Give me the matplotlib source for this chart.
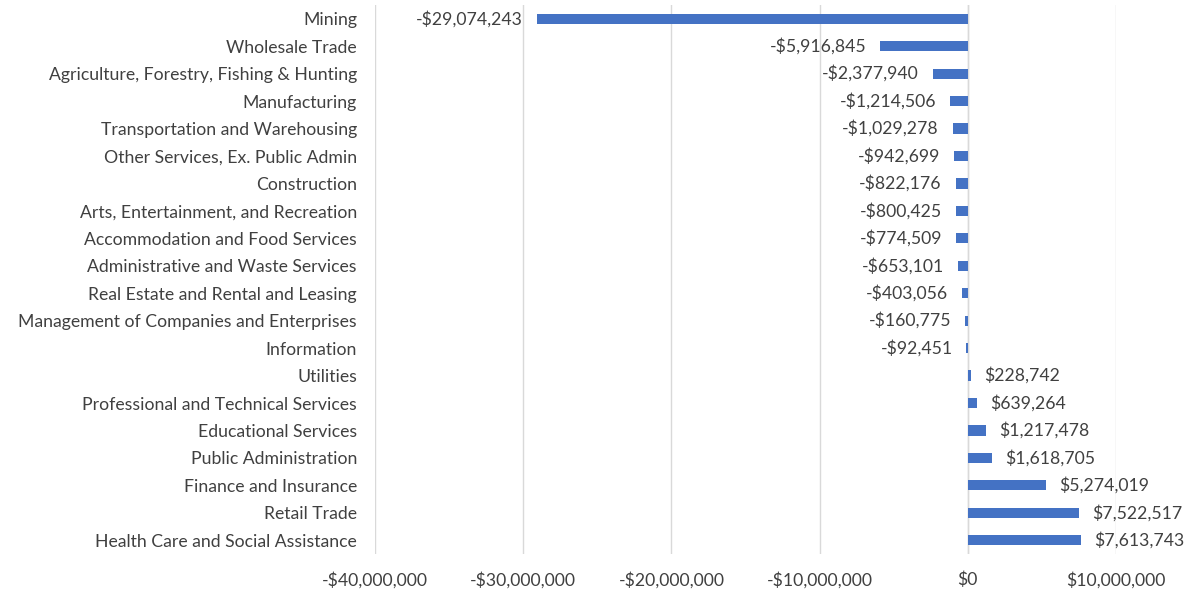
import matplotlib
matplotlib.use("Agg")
import matplotlib.pyplot as plt
from matplotlib.ticker import FuncFormatter

categories = [
    "Mining", "Wholesale Trade", "Agriculture, Forestry, Fishing & Hunting",
    "Manufacturing", "Transportation and Warehousing",
    "Other Services, Ex. Public Admin", "Construction",
    "Arts, Entertainment, and Recreation", "Accommodation and Food Services",
    "Administrative and Waste Services", "Real Estate and Rental and Leasing",
    "Management of Companies and Enterprises", "Information", "Utilities",
    "Professional and Technical Services", "Educational Services",
    "Public Administration", "Finance and Insurance", "Retail Trade",
    "Health Care and Social Assistance",
]
values = [
    -29074243, -5916845, -2377940, -1214506, -1029278, -942699, -822176,
    -800425, -774509, -653101, -403056, -160775, -92451, 228742, 639264,
    1217478, 1618705, 5274019, 7522517, 7613743,
]
x_ticks = [-40000000, -30000000, -20000000, -10000000, 0, 10000000]

plt.rcParams['font.family'] = ['Lato', 'DejaVu Sans']
text_color = '#404040'
fs = 12.7

def money(v):
    v = int(round(v))
    return f"-${abs(v):,}" if v < 0 else f"${v:,}"

fig = plt.figure(figsize=(11.89, 5.93), dpi=100)
ax = fig.add_axes([375/1189, 1-554/593, (1116-375)/1189, (554-5)/593])

ypos = list(range(len(categories)))
bars = ax.barh(ypos, values, height=0.37, color='#4472C4', zorder=3)
for b, v in zip(bars, values):
    yc = b.get_y() + b.get_height()/2
    if v < 0:
        ax.annotate(money(v), (v, yc), xytext=(-10, 0), textcoords='offset points',
                    ha='right', va='center', fontsize=fs, color=text_color)
    else:
        ax.annotate(money(v), (v, yc), xytext=(9.5, 0), textcoords='offset points',
                    ha='left', va='center', fontsize=fs, color=text_color)

ax.set_xlim(-40000000, 10000000)
ax.set_ylim(len(categories) - 0.5, -0.5)
ax.set_xticks(x_ticks)
ax.xaxis.set_major_formatter(FuncFormatter(lambda v, p: money(v)))
ax.set_yticks(ypos)
ax.set_yticklabels(categories)
ax.tick_params(axis='both', length=0, labelsize=fs, colors=text_color)
ax.tick_params(axis='x', pad=12.5)
ax.tick_params(axis='y', pad=13)
ax.grid(axis='x', color='#d9d9d9', linewidth=1, zorder=0)
ax.axvline(0, color='#d9d9d9', linewidth=1, zorder=2)
for s in ax.spines.values():
    s.set_visible(False)

fig.savefig("out.png", dpi=100)
